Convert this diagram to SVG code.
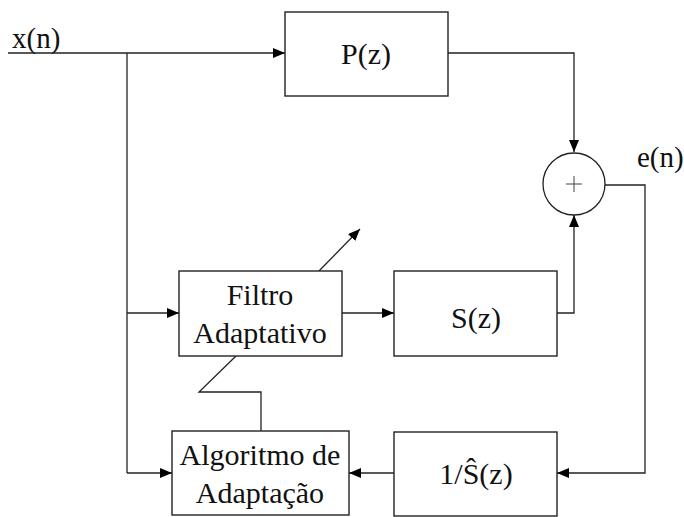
<svg xmlns="http://www.w3.org/2000/svg" width="684" height="517" viewBox="0 0 684 517">
<defs>
<marker id="ah" markerWidth="12" markerHeight="10" refX="12" refY="5" orient="auto" markerUnits="userSpaceOnUse">
<path d="M0,0 L12,5 L0,10 Z" fill="#000"/>
</marker>
<style>
.box{fill:#fff;stroke:#222;stroke-width:1.4}
.ln{fill:none;stroke:#222;stroke-width:1.3}
.t{font-family:"Liberation Serif","Times New Roman",serif;font-size:30px;fill:#111;text-anchor:middle}
.tl{font-family:"Liberation Serif","Times New Roman",serif;font-size:29px;fill:#111}
</style>
</defs>
<rect width="684" height="517" fill="#fff"/>
<g id="connectors">
<path class="ln" d="M8,53 H285" marker-end="url(#ah)"/>
<path class="ln" d="M127,53 V473"/>
<path class="ln" d="M127,313 H179" marker-end="url(#ah)"/>
<path class="ln" d="M127,473 H172" marker-end="url(#ah)"/>
<path class="ln" d="M448,53 H574 V152" marker-end="url(#ah)"/>
<path class="ln" d="M342,313 H394" marker-end="url(#ah)"/>
<path class="ln" d="M557,313 H574 V215" marker-end="url(#ah)"/>
<path class="ln" d="M605,185 H645 V473 H557" marker-end="url(#ah)"/>
<path class="ln" d="M394,473 H349" marker-end="url(#ah)"/>
<path class="ln" d="M319,271 L360,229" marker-end="url(#ah)"/>
<path class="ln" d="M261,431 V392 H199 L236,356"/>
</g>
<g id="input-label"><text class="tl" x="12" y="48">x(n)</text></g>
<g id="P"><rect class="box" x="285" y="12" width="163" height="84"/><text class="t" x="366" y="64">P(z)</text></g>
<g id="sum"><circle cx="574" cy="184" r="31" fill="#fff" stroke="#222" stroke-width="1.3"/><path d="M566,184 H582 M574,176 V192" stroke="#444" stroke-width="1"/></g>
<g id="error-label"><text class="tl" x="637" y="167">e(n)</text></g>
<g id="filtro"><rect class="box" x="179" y="271" width="163" height="85"/><text class="t" x="260" y="305">Filtro</text><text class="t" x="260" y="343">Adaptativo</text></g>
<g id="S"><rect class="box" x="394" y="271" width="163" height="85"/><text class="t" x="476" y="328">S(z)</text></g>
<g id="algoritmo"><rect class="box" x="172" y="431" width="177" height="84"/><text class="t" x="260" y="465">Algoritmo de</text><text class="t" x="260" y="503">Adaptação</text></g>
<g id="invS"><rect class="box" x="394" y="432" width="163" height="84"/><text class="t" x="476" y="484">1/Ŝ(z)</text></g>
</svg>
